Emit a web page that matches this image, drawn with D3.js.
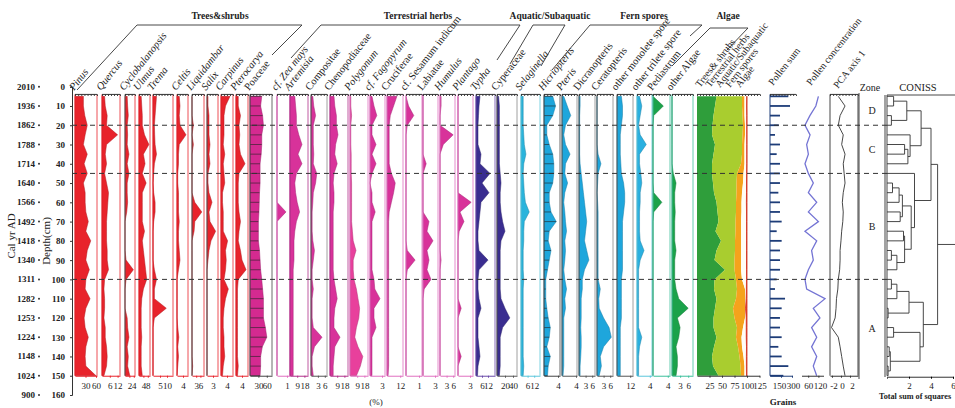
<!DOCTYPE html>
<meta charset="utf-8">
<style>
body { margin: 0; background: #fff; }
text { font-family: "Liberation Serif", "DejaVu Serif", serif; fill: #222; }
</style>
<svg id="chart" width="955" height="408"></svg>
<script src="https://d3js.org/d3.v7.min.js"></script>
<script>
// sample depths (cm) and age model
var depths = [5,10,15,20,25,30,35,40,45,50,55,60,65,70,75,80,85,90,95,100,105,110,115,120,125,130,135,140,145,150];
var ageDepths = [0,10,20,30,40,50,60,70,80,90,100,110,120,130,140,150,160];
var ages = [2010,1936,1862,1788,1714,1640,1566,1492,1418,1340,1311,1282,1253,1224,1148,1024,900];
var zoneBounds = [20,45,100];
var zoneNames = ["D","C","B","A"];

// percentages
var pinus = [24,24,28,35,29,24,35,26,35,24,29,29,31,38,31,45,35,31,41,31,29,43,31,26,29,38,31,29,31,60];
var quercus = [2,2.5,4,3.5,12,3.5,2.5,3.5,2,3.5,5,4.5,4,3.5,3.5,3.5,4,4,5,2,1.5,2,2,1.5,2.5,2.5,3.5,4,3.5,1.5];
var cyclobalanopsis = [1,1.2,1.5,1,1.2,1,1.8,1,1.8,1,1,1.2,0.8,0,0,0,0,0.5,3.8,0.5,0,0,0,1,1.2,1.8,1,1.5,1.2,2.2];
var ulmus = [2,2.5,3,3,5,9,4,5.5,3,6.5,3,3,3,3,5,3,4,5,6,7,4,2.5,2,2,2,2.5,2,2,2,3];
var trema = [2.5,2,1.5,1,1.2,1.5,2.5,1,0.5,0,0.5,1.5,1.5,0.5,0,0,0,0,1,2.5,1,1,9.5,1,0,0,0,0,0,0];
var celtis = [1.5,2,1.5,2,6,1.5,1,1,0.5,0.5,1,1,1,1.5,1,1,1.5,2,1,0,0,0,0,0,0.5,1.2,0.5,1,0.5,0];
var liquidambar = [0,0,0,1,0,1,0,0,0,0,0,2,7,2,1.5,0,0,0,0,0,0,0,0,0,0,0,0,0,0.5,0];
var salix = [0.5,0.5,1,1,1,1.5,1,1.5,0.5,0.5,1,2.5,1,1.5,4.3,2,1,0.5,0,0,0,0,0,0,0,0,0,0,0,0];
var carpinus = [6,3,2,2,2,1.5,2.5,1.5,2,2.5,1,1,1.5,1.5,1.5,4.4,3,3.5,3,2,4.9,3,2,1.5,1.5,2,2,2.5,1.5,1];
var pterocarya = [1.5,1.5,3,2,2.5,2,3,6,2,1.5,1.5,1.5,2,3,2,1.5,3,4,6.7,1.5,1,1,1,1,1,1,1,1,1.5,1];
var poaceae = [42,38,45,48,42,42,40,36,36,36,34,33,32,30,30,30,34,36,38,42,45,48,48,48,55,60,44,38,38,36];
var zeaMays = [0,0,0,0,0,0,0,0,0,0,0,0,0.9,0,0,0,0,0,0,0,0,0,0,0,0,0,0,0,0,0];
var artemisia = [6,7,8,8,11,15,10,15,8,6,7,9,12,8,6,5,5,5,4,4,4,4,4,4,4,4,4,4,4,4];
var compositae = [0.8,1.2,2,1,1,1,1.2,1,2.5,2,1,0.8,0.5,0.5,0.5,0.8,1.5,1,0.5,0.5,1,0.5,0.5,0.5,1,4.8,1.5,0.5,0.5,1];
var chenopodiaceae = [5,6,8,8,10,7,6,9,5,4,5,5,4,4,4,4,4,4,4,5,7,9,6,5,5,12.5,6,5,4,4];
var polygonum = [1,1,2,1,1,1,1.5,1.5,1.5,2,2,2,2,2,3,4,7.5,4,4,5,8,10,12,11,8,6,10,16,13,8];
var fagopyrum = [0.5,1,1.7,0.5,0.5,1.5,0.5,1.5,0.5,0,0.5,0.5,1.3,0.5,0.5,0.5,0.5,0.5,0.5,1,1.2,2.5,1,1,1.5,0.5,0.5,0.5,0.5,0.5];
var cruciferae = [9,6,3,2,2,2,2,2,4,7.5,6,4,2,1.5,1.5,1.5,1.5,1.5,1.5,1.5,1.5,1.5,1.5,1.5,1.5,1.5,1.5,1.5,1.5,1];
var sesamum = [0,0.2,0.6,0.1,0,0,0,0,0,0,0,0,0,0,0,0,0.1,0.7,0.1,0,0,0,0,0,0,0,0,0,0,0];
var labiatae = [0,0,0,0,0,0,0,0.8,0,0,0,0,0,1.5,1,2.5,1,1.5,1,2,0.3,0,0,0,0,0,0,0,0,0];
var humulus = [0.5,0.5,0,0,6,1.5,0,0,0,0,0,0,0,0,0,0,0,0.5,0,0,0,0,0,0,0,0,0,0,0,0];
var plantago = [0,0,0,0,0,0,0,0,0,0,0,3.3,0.5,1.5,0.3,0,0,0,0,0,0,0,0.8,0,0,0,0,0.8,0,0];
var typha = [4,3,2.5,2,2,2,5,4,14,6,13,5,4,3,2,2,3,12,3,2,2,3,5,2,2,2,3,4,2,1.5];
var cyperaceae = [4,6,6,6,6,6,6,6,8,10,8,8,10,14,20,10,8,8,8,8,8,10,20,32,14,8,8,8,8,6];
var selaginella = [2,2,2,2,2.5,3,4.5,2.5,2,2.5,3,4,7.5,3,2.5,2.5,2,2,2,2.5,2,2,2,2,2,2,2,2,2.5,2];
var hicriopteris = [2.5,3.3,2.5,0.8,0.8,1.5,2.5,2.8,2.8,2.5,1.5,1.5,2,3.5,1.5,1.2,2,1.5,1,0.5,0.5,0.5,0.8,1.2,1.8,1.5,0.8,1.8,1.2,1];
var pteris = [0.5,1.5,2.5,1,0.5,1,2.3,1,0.8,1.6,0.8,0.5,0.8,1,1.3,0.8,1,0.8,0.5,0.8,1.3,0.8,1,0.5,0.5,0.5,0.5,0.5,0.5,0.3];
var dicranopteris = [0.5,0.5,0.3,0.3,0.3,0.3,0.3,0.5,1,1.5,2,2.5,3,3.5,3,2.5,3.5,4.5,2.5,1.5,1.5,1,1,1,0.8,1,1,0.8,0.5,0.5];
var ceratopteris = [0,0,0,0,0,0,0.5,1.8,0.5,0.3,0,0.3,0.5,0.5,0.5,0.5,0.5,0.5,0.5,0.5,1.5,0.8,1,3,5.5,6.5,3,1.5,2,1];
var monolete = [4,5,5,4,3,3,3,3.5,4,6,7,7,6,5,5,5,5,5,5,4,4,4,4,4,3,3,3,3,3,3];
var trilete = [0.8,1.5,1,0.5,1,2.9,0.8,0.8,1.2,1.5,1,1,0.8,0.8,0.8,1,2.2,1,0.5,0.5,0.5,0.5,0.5,0.5,0.5,1.5,0.8,0.5,0.5,0.5];
var pediastrum = [0,2.8,0.2,0,0,0,0,0,0,0,0.2,2.4,0.2,0,0,0,0,0,0,0,0,0,0,0,0,0,0,0,0,0];
var otherAlgae = [0,0,0,0,0,0,0,0,0.5,1.5,1,1,1.2,1,1,1,1.5,1,1,1,1.5,2.5,6,2,3,2.5,1.5,2,2,1.5];

// summary groups (%)
var sumTrees = [39,36,33,31,30,36,33,30,30,32,34,39,41,43,37,48,39,35,56,35,34,39,36,33,33,39,34,30,32,43];
var sumHerbs = [51,54,58,61,61,54,57,58,50,47,45,39,37,34,40,28,37,40,19,43,46,39,36,42,47,39,48,55,55,45];
var sumAquatic = [5,5,4,4,5,5,5,7,13,13,11,11,11,11,11,12,12,13,13,12,16,19,24,21,12,11,8,8,8,7];
var sumFern = [4.5,4.2,4.5,3.5,3.5,4.5,4.5,4.5,6.2,7,9,9.8,10,11,11,11,11,11,11,9,2.8,1.5,1,2.5,6.5,9.5,9,5.8,3.8,4];
var sumAlgae = [0.5,0.8,0.5,0.5,0.5,0.5,0.5,0.5,0.8,1,1,1.2,1,1,1,1,1,1,1,1,1.2,1.5,3,1.5,1.5,1.5,1,1.2,1.2,1];

var pollenSum = [250,273,136,120,68,136,91,136,136,136,114,136,136,159,91,159,136,136,136,91,68,205,159,136,136,159,114,159,250,182];
var concentration = [120,105,70,41,71,51,61,41,61,90,61,110,61,120,41,110,80,90,61,41,51,159,90,129,80,110,80,110,90,110];
var pca1 = [-0.6,0.9,-0.2,-0.6,0.5,0.15,0.9,0.5,0.7,0.9,0.5,0.3,0.5,0.4,0.15,0,-0.2,-0.2,-0.3,-0.6,-0.7,-1,-1.1,-1.3,-2.1,-0.6,-0.2,0.15,0.5,0.9];

// CONISS tree: [height, left, right], leaves are depths
var coniss = [4.6,
  [4.0,
    [3.1, [1.8, [0.6,5,10], [0.4,15,20]], [2.1, 25, [1.9, [1.6,30,35], 40]]],
    [2.5, 45, [2.2, [1.4, [1.1, [0.5,50,55], 60], [1.2,65,70]], [1.6, [1.5,75,80], [0.9, [0.4,85,90], 95]]]]],
  [3.3, [2.0, [0.9, [0.4,100,105], 110], [0.1,115,120]], [3.0, [0.6,125,130], [0.3, [0.2,135,140], [0.1,145,150]]]]];

var groups = ["Trees&shrubs","Terrestrial herbs","Aquatic/Subaquatic","Fern spores","Algae"];
var summaryNames = ["Trees& shrubs","Terrestrial herbs","Aquatic/Subaquatic","Fern spores","Algae"];

var red = "#e8232b", mag = "#d8329a", pink = "#e070c0", navy = "#3a2d90", cyan = "#1ea6dc", lcyan = "#5cc6dc", green = "#1ba24a", teal = "#3cbf9c";

var panels = [
  {n:"Pinus", v:pinus, x:75, w:22, k:0.35, t:[30,60], c:red, b:red, it:1},
  {n:"Quercus", v:quercus, x:102, w:18, k:1.3, t:[6,12], c:red, b:red, it:1},
  {n:"Cyclobalanopsis", v:cyclobalanopsis, x:125, w:10, k:2.2, t:[2,4], c:red, b:"#555", it:1},
  {n:"Ulmus", v:ulmus, x:139, w:11, k:1.1, t:[4,8], c:red, b:red, it:1},
  {n:"Trema", v:trema, x:153, w:20, k:1.4, t:[5,10], c:red, b:red, it:1},
  {n:"Celtis", v:celtis, x:177, w:11, k:1.5, t:[4], c:red, b:red, it:1},
  {n:"Liquidambar", v:liquidambar, x:192, w:12, k:1.4, t:[3,6], c:red, b:"#555", it:1},
  {n:"Salix", v:salix, x:207, w:11, k:2, t:[3], c:red, b:"#555", it:1},
  {n:"Carpinus", v:carpinus, x:221, w:12, k:1.5, t:[4], c:red, b:red, it:1},
  {n:"Pterocarya", v:pterocarya, x:236, w:12, k:1.5, t:[4], c:red, b:red, it:1},
  {n:"Poaceae", v:poaceae, x:250, w:22, k:0.28, t:[30,60], c:"#d42a90", b:"#444", it:0, hatch:1},
  {n:"cf. Zea mays", v:zeaMays, x:277, w:13, k:10, t:[1], c:mag, b:pink, it:1},
  {n:"Artemisia", v:artemisia, x:290, w:18, k:0.8, t:[9,18], c:mag, b:"#b0308a", it:1},
  {n:"Compositae", v:compositae, x:311, w:16, k:2.3, t:[3,6], c:mag, b:"#555", it:0},
  {n:"Chenopodiaceae", v:chenopodiaceae, x:330, w:18, k:0.8, t:[9,18], c:mag, b:"#b0308a", it:0},
  {n:"Polygonum", v:polygonum, x:350, w:18, k:0.8, t:[9,18], c:"#e8409c", b:pink, it:1},
  {n:"cf. Fagopyrum", v:fagopyrum, x:370, w:15, k:4, t:[3], c:mag, b:pink, it:1},
  {n:"Cruciferae", v:cruciferae, x:387, w:16, k:1.1, t:[12], c:mag, b:pink, it:0},
  {n:"cf. Sesamum indicum", v:sesamum, x:406, w:16, k:13, t:[1], c:mag, b:pink, it:0},
  {n:"Labiatae", v:labiatae, x:423, w:15, k:4, t:[3], c:mag, b:pink, it:0},
  {n:"Humulus", v:humulus, x:440, w:15, k:2.2, t:[3,6], c:mag, b:pink, it:1},
  {n:"Plantago", v:plantago, x:458, w:15, k:4, t:[3], c:mag, b:pink, it:1},
  {n:"Typha", v:typha, x:476, w:19, k:1.0, t:[6,12], c:navy, b:"#6a4aa8", it:1},
  {n:"Cyperaceae", v:cyperaceae, x:497, w:20, k:0.4, t:[20,40], c:navy, b:"#555", it:0},
  {n:"Selaginella", v:selaginella, x:521, w:19, k:1.1, t:[6,12], c:"#2ab4dc", b:lcyan, it:1},
  {n:"Hicriopteris", v:hicriopteris, x:544, w:16, k:3.5, t:[4], c:cyan, b:"#444", it:1, hatch:1},
  {n:"Pteris", v:pteris, x:562, w:15, k:3.5, t:[4], c:cyan, b:"#555", it:1},
  {n:"Dicranopteris", v:dicranopteris, x:579, w:16, k:2.2, t:[3,6], c:cyan, b:"#555", it:0},
  {n:"Ceratopteris", v:ceratopteris, x:597, w:16, k:2.2, t:[3,6], c:cyan, b:"#555", it:0},
  {n:"other monolete spore", v:monolete, x:617, w:16, k:1.1, t:[12], c:cyan, b:"#555", it:0},
  {n:"other trilete spore", v:trilete, x:637, w:15, k:3.2, t:[4], c:"#2ab0e0", b:lcyan, it:0},
  {n:"Pediastrum", v:pediastrum, x:653, w:17, k:3.7, t:[4], c:green, b:teal, it:0},
  {n:"other Algae", v:otherAlgae, x:672, w:21, k:2.7, t:[3,6], c:green, b:teal, it:0}
];

var fmt = function(d){ return String(d); };

var svg = d3.select("#chart");
var y = d3.scaleLinear().domain([0,160]).range([86.7,395]);
var yTop = y(4), yBot = y(150);

// age axis
svg.append("g").selectAll("text").data(ages).enter().append("text")
  .attr("x", 35).attr("y", function(d,i){ return y(ageDepths[i]) + 3; })
  .attr("text-anchor","end").style("font-size","9px").style("font-weight","bold")
  .text(function(d){ return d; });
svg.append("g").selectAll("circle").data(ages).enter().append("circle")
  .attr("cx", 39).attr("cy", function(d,i){ return y(ageDepths[i]); })
  .attr("r", 1).attr("fill","#333");
svg.append("text").attr("transform","translate(15,236) rotate(-90)")
  .attr("text-anchor","middle").style("font-size","11px").text("Cal yr AD");
svg.append("text").attr("transform","translate(50,241) rotate(-90)")
  .attr("text-anchor","middle").style("font-size","11px").text("Depth(cm)");

// depth axis
var dAxis = svg.append("g").attr("transform","translate(72,0)")
  .call(d3.axisLeft(y).tickValues(ageDepths).tickSize(2).tickPadding(5).tickFormat(fmt));
dAxis.selectAll("text").style("font-family","Liberation Serif").style("font-size","9px").style("font-weight","bold").attr("fill","#222");
dAxis.selectAll("path,line").attr("stroke","#333");

function topTicks(g, x0, x1) {
  g.append("line").attr("x1",x0).attr("x2",x1).attr("y1",yTop).attr("y2",yTop).attr("stroke","#333").attr("stroke-width",1);
  var sc = d3.scaleLinear().domain([0,1]).range([x0,x1]);
  g.append("g").attr("transform","translate(0,"+yTop+")")
    .call(d3.axisBottom(sc).tickValues(d3.range(0,1.001,1/Math.max(2,Math.round((x1-x0)/3)))).tickSize(1.5).tickFormat(""))
    .call(function(a){ a.select(".domain").remove(); a.selectAll("line").attr("stroke","#333"); });
}

function bottomAxis(g, sc, ticks, col) {
  var ax = g.append("g").attr("transform","translate(0,"+yBot+")")
    .call(d3.axisBottom(sc).tickValues(ticks).tickSize(2).tickPadding(5).tickSizeOuter(0).tickFormat(fmt));
  ax.select(".domain").attr("stroke", col);
  ax.selectAll("line").attr("stroke", col);
  ax.selectAll("text").style("font-family","Liberation Serif").style("font-size","9px").attr("fill","#222");
  return ax;
}

var pg = svg.append("g");
panels.forEach(function(p) {
  var g = pg.append("g");
  var sx = d3.scaleLinear().domain([0, p.w / p.k]).range([p.x, p.x + p.w]);
  var rows = p.v.map(function(v,i){ return {d: depths[i], v: v}; });
  var area = d3.area().y(function(r){ return y(r.d); }).x0(p.x).x1(function(r){ return sx(r.v); });
  g.append("path").datum(rows).attr("d", area).attr("fill", p.c).attr("stroke", d3.color(p.c).darker(0.8)).attr("stroke-width",0.5);
  if (p.hatch) {
    g.selectAll(".h").data(rows).enter().append("line")
      .attr("x1", p.x).attr("x2", function(r){ return sx(r.v); })
      .attr("y1", function(r){ return y(r.d); }).attr("y2", function(r){ return y(r.d); })
      .attr("stroke","#222").attr("stroke-width",0.6);
  }
  g.append("line").attr("x1",p.x).attr("x2",p.x).attr("y1",yTop).attr("y2",yBot).attr("stroke",p.b).attr("stroke-width",1);
  g.append("line").attr("x1",p.x+p.w).attr("x2",p.x+p.w).attr("y1",yTop).attr("y2",yBot).attr("stroke",p.c === red ? red : p.b === "#555" ? "#888" : p.b).attr("stroke-width",0.8);
  topTicks(g, p.x, p.x + p.w);
  bottomAxis(g, sx, p.t, p.c === red ? red : p.b);
  g.append("text").attr("transform","translate("+(p.x-1)+",91) rotate(-52)")
    .style("font-size","10.5px").style("font-style", p.it ? "italic" : "normal").text(p.n);
});

// summary diagram
var sumRows = depths.map(function(d,i){
  return {d:d, trees:sumTrees[i], herbs:sumHerbs[i], aquatic:sumAquatic[i], fern:sumFern[i], algae:sumAlgae[i]};
});
var sumKeys = ["trees","herbs","aquatic","fern","algae"];
var sumColors = ["#2f9e3b","#a9cd2f","#f5a31c","#fffdf6","#e9432c"];
var ssx = d3.scaleLinear().domain([0,125]).range([697,759.5]);
var stack = d3.stack().keys(sumKeys)(sumRows);
var sg = svg.append("g");
sg.selectAll("path").data(stack).enter().append("path")
  .attr("d", d3.area().y(function(r){ return y(r.data.d); }).x0(function(r){ return ssx(r[0]); }).x1(function(r){ return ssx(r[1]); }))
  .attr("fill", function(d,i){ return sumColors[i]; })
  .attr("stroke", function(d,i){ return i === 4 ? "#d03020" : "none"; }).attr("stroke-width",0.8);
topTicks(sg, 697, 760);
bottomAxis(sg, ssx, [25,50,75,100,125], "#333");
sg.selectAll(".lab").data(summaryNames).enter().append("text")
  .attr("transform", function(d,i){ return "translate(" + (700 + i * 10) + ",88) rotate(-52)"; })
  .style("font-size","10px").text(function(d){ return d; });

// pollen sum bars
var psx = d3.scaleLinear().domain([0,300]).range([770,792]);
var psg = svg.append("g");
psg.selectAll("line.bar").data(pollenSum).enter().append("line")
  .attr("x1",770).attr("x2",function(d){ return psx(d); })
  .attr("y1",function(d,i){ return y(depths[i]); }).attr("y2",function(d,i){ return y(depths[i]); })
  .attr("stroke","#1d3c78").attr("stroke-width",1.8);
psg.append("line").attr("x1",770).attr("x2",770).attr("y1",yTop).attr("y2",yBot).attr("stroke","#1d3c78");
topTicks(psg, 770, 796);
var psAx = bottomAxis(psg, psx, [150,300], "#1d3c78");
psAx.selectAll("text").attr("dx", function(d){ return d === 150 ? -2 : 1; });
psg.append("text").attr("transform","translate(773,86) rotate(-52)").style("font-size","10px").text("Pollen sum");

// pollen concentration
var csx = d3.scaleLinear().domain([0,120]).range([798,818.4]);
var cg = svg.append("g");
cg.append("path").datum(concentration)
  .attr("d", d3.line().x(function(d){ return csx(d); }).y(function(d,i){ return y(depths[i]); }))
  .attr("fill","none").attr("stroke","#7474d4").attr("stroke-width",1.3);
var cAx1 = bottomAxis(cg, csx, [60,120], "#333");
cAx1.select(".domain").attr("d","M802,0.5H824");
cAx1.selectAll("text").attr("dx", function(d){ return d === 60 ? 0 : 1.5; });
cg.append("text").attr("transform","translate(811,86) rotate(-52)").style("font-size","10px").text("Pollen concentration");

// PCA axis 1
var pcx = d3.scaleLinear().domain([-2.44,3.78]).range([830,858]);
var pcg = svg.append("g");
pcg.append("path").datum(pca1)
  .attr("d", d3.line().x(function(d){ return pcx(d); }).y(function(d,i){ return y(depths[i]); }))
  .attr("fill","none").attr("stroke","#333").attr("stroke-width",0.9);
pcg.append("line").attr("x1",830).attr("x2",830).attr("y1",yTop).attr("y2",yBot).attr("stroke","#444");
pcg.append("line").attr("x1",858).attr("x2",858).attr("y1",yTop).attr("y2",yBot).attr("stroke","#444");
topTicks(pcg, 830, 858);
var pcAx = bottomAxis(pcg, pcx, [-2,0,2], "#333");
pcAx.selectAll("text").attr("dx", function(d){ return d === -2 ? 1.5 : d === 2 ? 2 : 1; });
pcg.append("text").attr("transform","translate(838,89) rotate(-52)").style("font-size","10px").text("PCA axis 1");

// zone column
var zg = svg.append("g");
zg.append("line").attr("x1",859).attr("x2",859).attr("y1",93).attr("y2",379).attr("stroke","#444");
zg.append("line").attr("x1",885).attr("x2",885).attr("y1",95).attr("y2",377).attr("stroke","#444");
zg.append("text").attr("x",870).attr("y",91).attr("text-anchor","middle").style("font-size","10px").text("Zone");
var zb = [4].concat(zoneBounds).concat([150]);
zg.selectAll(".z").data(zoneNames).enter().append("text")
  .attr("x",872).attr("y",function(d,i){ return y((zb[i] + zb[i+1]) / 2) + 4; })
  .attr("text-anchor","middle").style("font-size","10px").text(function(d){ return d; });

// CONISS dendrogram
var cx = d3.scaleLinear().domain([0,6]).range([887,953]);
var root = d3.hierarchy(coniss, function(d){ return Array.isArray(d) ? d.slice(1) : null; });
root.eachAfter(function(n){
  if (n.children) { n.h = n.data[0]; n.py = (n.children[0].py + n.children[1].py) / 2; }
  else { n.h = 0; n.py = y(n.data); }
});
var dg = svg.append("g").attr("stroke","#333").attr("stroke-width",0.9).attr("fill","none");
root.each(function(n){
  if (!n.children) return;
  dg.append("line").attr("x1",cx(n.h)).attr("x2",cx(n.h)).attr("y1",n.children[0].py).attr("y2",n.children[1].py);
  n.children.forEach(function(c){
    dg.append("line").attr("x1",cx(c.h)).attr("x2",cx(n.h)).attr("y1",c.py).attr("y2",c.py);
  });
});
dg.append("line").attr("x1",cx(root.h)).attr("x2",955).attr("y1",root.py).attr("y2",root.py);
dg.append("line").attr("x1",887).attr("x2",887).attr("y1",95).attr("y2",yBot);
dg.append("line").attr("x1",887).attr("x2",955).attr("y1",95).attr("y2",95);
var cAx = svg.append("g").attr("transform","translate(0,"+(yBot+1)+")")
  .call(d3.axisBottom(cx).tickValues([2,4,6]).tickSize(2).tickPadding(4).tickFormat(fmt));
cAx.select(".domain").attr("stroke","#333");
cAx.selectAll("text").style("font-family","Liberation Serif").style("font-size","9px").attr("fill","#222");
svg.append("text").attr("x",918).attr("y",91).attr("text-anchor","middle").style("font-size","10.5px").text("CONISS");
svg.append("text").attr("x",879).attr("y",399).style("font-size","8.2px").style("font-weight","bold").text("Total sum of squares");

// zone dashed lines
svg.append("g").selectAll("line").data(zoneBounds).enter().append("line")
  .attr("x1",72).attr("x2",887).attr("y1",function(d){ return y(d); }).attr("y2",function(d){ return y(d); })
  .attr("stroke","#333").attr("stroke-width",1).attr("stroke-dasharray","5,4");

// bottom units
svg.append("text").attr("x",376).attr("y",405).attr("text-anchor","middle").style("font-size","9px").text("(%)");
svg.append("text").attr("x",783).attr("y",405).attr("text-anchor","middle").style("font-size","9px").style("font-weight","bold").text("Grains");

// group headers with brackets
var hx = [220,418,550,644,728];
var brackets = [
  [[77,90],[137,25],[302,25],[272,55]],
  [[291,58],[321,25],[520,25],[497,60]],
  [[510,64],[533,25],[565,25],[541,66]],
  [[552,70],[590,25],[702,25],[690,36]],
  [[672,66],[710,28],[748,28],[727,50]]
];
var hg = svg.append("g");
hg.selectAll("text").data(groups).enter().append("text")
  .attr("x",function(d,i){ return hx[i]; }).attr("y",19).attr("text-anchor","middle")
  .style("font-size","9.5px").style("font-weight","bold").text(function(d){ return d; });
hg.selectAll("path").data(brackets).enter().append("path")
  .attr("d", d3.line()).attr("fill","none").attr("stroke","#333").attr("stroke-width",0.9);
</script>
